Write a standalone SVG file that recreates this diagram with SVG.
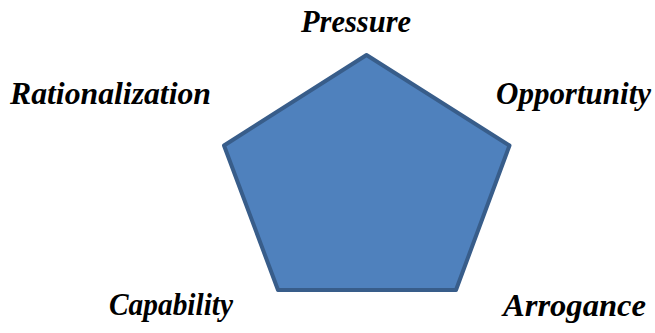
<svg xmlns="http://www.w3.org/2000/svg" width="655" height="333" viewBox="0 0 655 333">
<style>
.lbl{font-family:'Liberation Serif','DejaVu Serif',serif;font-weight:700;font-style:italic;font-size:31px;fill:#000}
.pent{fill:#4F81BD;stroke:#385D8A;stroke-width:4;stroke-linejoin:round}
</style>
<rect width="655" height="333" fill="#fff"/>
<g id="pentagon">
<polygon class="pent" points="366.5,55 509.5,145.5 456,290 278,290 224,145.5"/>
</g>
<g id="connectors"></g>
<g id="pressure"><text class="lbl" x="301" y="32" textLength="110" lengthAdjust="spacingAndGlyphs">Pressure</text></g>
<g id="rationalization"><text class="lbl" x="10" y="104" textLength="201" lengthAdjust="spacingAndGlyphs">Rationalization</text></g>
<g id="opportunity"><text class="lbl" x="496" y="104" textLength="155" lengthAdjust="spacingAndGlyphs">Opportunity</text></g>
<g id="capability"><text class="lbl" x="109" y="315" textLength="124" lengthAdjust="spacingAndGlyphs">Capability</text></g>
<g id="arrogance"><text class="lbl" x="503" y="316" textLength="143" lengthAdjust="spacingAndGlyphs">Arrogance</text></g>
</svg>
